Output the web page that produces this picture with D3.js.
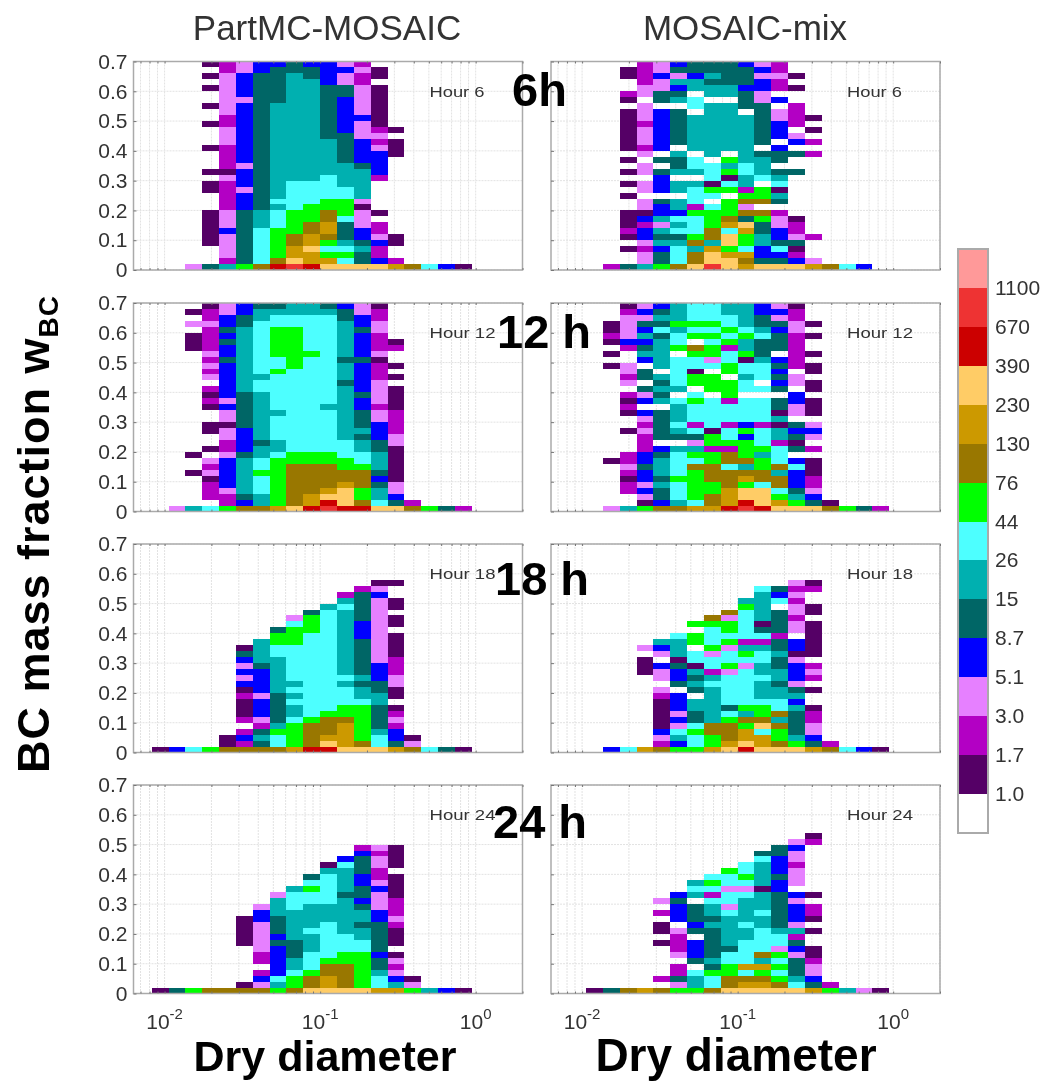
<!DOCTYPE html>
<html>
<head>
<meta charset="utf-8">
<script src="https://cdn.jsdelivr.net/npm/d3@7"></script>
<style>
  body { margin: 0; background: #fff; }
  svg { display: block; filter: blur(0.7px); font-family: "Liberation Sans", Arial, sans-serif; }
  .axis path { stroke: none; }
  .axis line { stroke: #777; }
  .axis text { fill: #333; font-size: 21px; }
  .grid line { stroke: #e2e2e2; stroke-dasharray: 2 1; }
</style>
</head>
<body>
<svg id="chart" width="1045" height="1081"></svg>
<script>
// colour bar: class limits, labels and colours, lowest class first
const classLimits = [1, 1.7, 3, 5.1, 8.7, 15, 26, 44, 76, 130, 230, 390, 670, 1100];
const classLabels = ['1.0', '1.7', '3.0', '5.1', '8.7', '15', '26', '44', '76', '130', '230', '390', '670', '1100'];
const classColors = ['#ffffff', '#550066', '#b300c4', '#e680ff', '#0000ff', '#006666', '#00b0b0', '#4dffff',
    '#00ff00', '#997700', '#cc9900', '#ffcc66', '#cc0000', '#ee3333', '#ff9999'];
const classValues = { '1': 1.3, '2': 2.3, '3': 4, '4': 6.6, '5': 11, '6': 20, '7': 34, '8': 58, '9': 100,
    'a': 175, 'b': 300, 'c': 510, 'd': 860, 'e': 1300 };

const diameterEdges = [0.00644, 0.00826, 0.0106, 0.0136, 0.01745, 0.0224, 0.0287, 0.0369, 0.0473, 0.0607, 0.0779,
    0.1, 0.1283, 0.1647, 0.2113, 0.2712, 0.348, 0.4466, 0.5731, 0.7354, 0.9434];
const fractionStep = 0.02;
const fractionTicks = [0, 0.1, 0.2, 0.3, 0.4, 0.5, 0.6, 0.7];
const decadeTicks = [0.01, 0.1, 1];
const decadeExponents = ['-2', '-1', '0'];
const minorTicks = [0.007, 0.008, 0.009, 0.02, 0.03, 0.04, 0.05, 0.06, 0.07, 0.08, 0.09,
    0.2, 0.3, 0.4, 0.5, 0.6, 0.7, 0.8, 0.9, 2];

// one string per diameter bin, each string goes from fraction 0 upward
const partmc6 = ['', '', '', '3',
    '5 ... 111111 ... 11 . 1 ... 1 ... 1 .. 1 .. 1 . 1 . 1',
    '6 2 3333 4 333 22222 3 1 2222 333 22 3333333 22',
    '8 555555555 444 3 444 3 4444444444 3 4444 33',
    '9 777777 666 55555555555555555555555 44',
    'c 9 88888 777 6 7 6666666666666666 555555 4',
    'd b aa 99 8888 77777 666666666666666666 55',
    'c aa b aa 99 888 7777 66666666666666666 55 4',
    'b a 8 7 8 9 aa 99 88 7777 666666 555555555 4444',
    'b 7 8 7 6 555 7 888 77 6666 55555 444444 55 33 4 3',
    'b 55 6 5 44 333 1 3 66666 5 4444 333 4 33333 22 3 2',
    'b 4 22 4 3 22 . 1 ..... 2 4444 3 2 3 2 1111111 . 11',
    'a 2 .. 11 ............. 111 . 1',
    '9', '7', '4', '1'];
const mix6 = ['', '', '', '2',
    '5 .. 1 . 1 2 111 .. 1 . 1 . 1 . 1 . 1111111 . 1 2 .. 11',
    '6 33 2 3 44 2 4 1 33 . 33 . 33 . 3 2 333 2 333 . 33 2222',
    '8 55 4 6 5 6 3 6 44 5 . 444 5 . 5 . 4444444 . 55 33 4 33',
    '9 777 6 5 7 6 7 4 6 6 . 66 . 6 55 6 . 555555 . 6 5 4 6 3 5 4',
    'b 99 6 9 8 777 8 2 777 6 . 6 77 . 666666 . 77 . 66 4 55',
    'd bb a 6 99 888 7 . 7 8 1 777 . 666666666 . 66 5 6 55',
    'bb a 8 bb 7 a 9 888 . 8 7 1 8 6 8 . 66666666 . 66 5555',
    'a 9 a 7 88 a b 5 9 3 9 8 2 66 77 66666666 . 555 4 555 4',
    'b 5 44 66 55 8 9 . 9 88 . 7 666 5 . 5555555 33 44 3 4 3',
    'b 5 4 7 5 44 33 2 . 5 6 1 7 6 5 . 55 4 . 444 33 . 4 . 22 3 22',
    'b 4 2 1 5 3 22 1 ....... 5 .. 5 . 4 3 . 2222 .. 1 . 1',
    'a 3 ... 2 ............. 2 . 2 . 1 . 1',
    '9', '7', '4', ''];
const partmc12 = ['', '', '3',
    '6 ..... 1 .. 1 ................. 111 . 3 . 1',
    '7 . 222 1 3 2 3 . 1 .. 11 .. 1 2 1 2 . 3 2 3 2 3 2222 3 2 2 1',
    '8 22 3 44444 3 22 33 1 33 4 3 444444 5 44 5 4 5 44 33',
    '9 4 5 666666 5 4444 555555 66666666666 55 44',
    '9 66 777 8 77 66 5 66666666 77 6 777777777 66 5',
    'a 88888888 7 66 7777 6 777777 8 77 88888 77 6 5',
    'b 9999999 88 77777777777777 8888888 77 66',
    'c aa 99999 88 7777777777777777 8 777777 66',
    'd c b a 9999 88 7777777 6 777777777777777 6 5',
    'c bbb a 99 88 777 666666666 5 666 5 666666 55 4',
    'c 9 88 999 8 77 66 5 6 555 44 5 44444 5 4444 5 44 33',
    'b 7 66 5 4 5 666 55 444 33 2 3333 222 1 3 222 33 22 1',
    'b 5 4 33 111111 33 2222 1111 . 1 . 1 .. 2 1',
    '9 2', '8', '5', '2'];
const mix12 = ['', '', '',
    '3 ....... 1 ............... 1 . 1 . 1 2 11',
    '6 .. 22 1 2 3 22 ... 1 .. 1 2 1 2 . 3 2 33 .. 2 4 3333 2 1',
    '8 1 3 4 3 44 5 44 222 3 2 3 4 . 4 3 5 . 55 . 4 6 5 4 6 4 5 3 4 3',
    '9 4 55 6 5 666 5 4 . 55 555 . 6 5 6 5 6 . 66666 5 7 5 6 5 4',
    '9 6 777 8 7777 6 . 5 6 7 666 7 . 6 77777 . 8 77 6 8 6 66',
    'a 7 88888 9 7 8 6 3 5 7 2 777 8 7 . 88 1 77 8 9 . 8 7 8 7 77',
    'a 99 88 999 88 2 88 1 7 7777 . 888 . 7 3 88 7 8 7 8 777',
    'c aaa 999 7 99 2 8 77 2 777 2 888 . 88 77 2 8 7 8 77 66',
    'd c bb 8 a 9 6 9 888 4 8 4 7777 . 77 6 77 1 8 66 8 7 6666',
    'c bbb 7 99 88 6 8 777 2 7777 . 7 . 777 6 555 7 6 55 44',
    'b a 8 7 99 6 9 777 2 66 1 6 1 5 5 . 5 4 5 4 5 4 . 555 4 5 3 4 3',
    'b 8 6 5 444 7 4 . 5 1 5 4 5 . 33 44 . 33 . 222222 33 22 1',
    'b 5 4 3 22 111 . 2 . 3 4 3 . 111 . 11 . 11 . 1 .. 1 . 1',
    '9 1', '8', '5', '2'];
const partmc18 = ['', '1', '4', '7', '8',
    '9 11',
    '9 2 4 2 . 2 111 2 1 4 3 4 3 4 5 1',
    '9 5 6 5 2 3 444 3 4444 5 6666',
    '9 77 8 6 55555 666666 77 88 5',
    'a 8888 7 66 7 6 7 6 777777 888 7 3',
    'c 9999 8 77777777777777 888 5',
    'c b a 999 8 77777777777777777 6',
    'b aaaa 9 88 777 6 7 66666666666 7 6 2',
    'b 9 888888 7 66 5 6 555555 444 55555 2',
    'b 77 6 5555 66 55 444 33333333333 4 3 1',
    'a 5 44 2 3 2 1 . 11 33 222 1111 . 11 . 11 .. 1',
    '9 3 1', '7', '5', '1'];
const mix18 = ['', '', '', '4', '7',
    'a ............ 111 . 3',
    '9 2 3 4 11111 2 3 . 33 4 . 3 4 6',
    '8 4 6 7 3 4 3 444 . 5 44 5 1 66 6 7',
    '8 77 8 7 55 66 . 5 6 5 6 1 77 . 88 . 8',
    'a 88 99 666666 7 6 2 77 3 8 777 8 9',
    'b a 999 8 7 5 77777 3 8 77 3 8 7 88 3 9',
    'c b aa 8 9 6 8 777777 3 7 8 6 2 77777 8 6',
    'b aa 7 b 9 88 7 6 66 7 66 77 6 2 7 5 1 66666 7',
    'b 9 88 9 6 9 77 6 6 5 66 55 6 55 2 5555 . 7 4 5',
    'b 8 6 5555 6 4 6 5 3 444 3 1 44 . 33 2 33 2 3 2 3',
    'a 5 4 33 22 1 .. 1 . 2 3 2 . 111111 . 11 .. 2 1',
    '9 2', '7', '4', '1'];
const partmc24 = ['', '1', '5', '8', '9', '9',
    '9 1 ...... 11111',
    '9 3 4 2 . 22 33333 44 3',
    '8 6 7 44444 5 4 555 666 3',
    '9 88 7 66 555 66666 777 6',
    'b 99 8 777 666 7 6666 77 8 7 5',
    'b aa 99 8 777777 666 77777 6 1',
    'b 9999 88 777 666666 5 6666 7 4',
    'b 888888 77 66 5 66 5 4 55 44 555 4 2',
    'a 77 6 55 4 55555 44 333 4 3 22 33 2 3',
    'a 6 4 3 2 3 1 . 111 2 3 222 1111 . 1111',
    '8 3 1', '6', '4', '1'];
const mix24 = ['', '', '1', '5', '9', 'a',
    '9 . 2 ..... 1 . 11 . 2 . 3',
    '8 3 5 22 . 3 222 3 . 444 5 4',
    '8 66 7 . 5 444 . 5 4 555 . 6 7 6',
    '9 77 8 5 6 55555 6 5 66 7 2 7 8 7',
    'b 99 88 77 5 66666 7 3 77 3 7 7 8',
    'b a 9 7 a 7777 66 7 6666 7 3 7 8 7 7',
    'b a 9 8 a 6 9 7777 66 7 666 1 6666 7 5',
    'b 9 8 7 8 7 8 3 77 6 555555 44 5 444 55',
    'b 7 6 555 3 4 5 2 6 3 444 3 4 . 333 2 33 4 3',
    'a 5 4 33 2 11 .. 1 . 1 22 . 1 ........ 2 1',
    '8 2', '6', '3', '1'];

const panels = [
    { cells: partmc6, hour: 'Hour 6', col: 0, row: 0 },
    { cells: mix6, hour: 'Hour 6', col: 1, row: 0 },
    { cells: partmc12, hour: 'Hour 12', col: 0, row: 1 },
    { cells: mix12, hour: 'Hour 12', col: 1, row: 1 },
    { cells: partmc18, hour: 'Hour 18', col: 0, row: 2 },
    { cells: mix18, hour: 'Hour 18', col: 1, row: 2 },
    { cells: partmc24, hour: 'Hour 24', col: 0, row: 3 },
    { cells: mix24, hour: 'Hour 24', col: 1, row: 3 }
];

const panelLefts = [133.5, 551];
const panelTops = [61.5, 303, 544, 785];
const panelWidth = 389;
const panelHeight = 208.5;

const svg = d3.select('#chart');
const mapX = d3.scaleLog().domain([Math.pow(10, -2.2), 2]).range([0, panelWidth]);
const mapY = d3.scaleLinear().domain([0, 0.7]).range([panelHeight, 0]);
const mapColor = d3.scaleThreshold().domain(classLimits).range(classColors);

panels.forEach(p => {
    const g = svg.append('g')
        .attr('transform', `translate(${panelLefts[p.col]}, ${panelTops[p.row]})`);

    g.append('g').attr('class', 'grid').selectAll('line')
        .data(minorTicks.concat(decadeTicks)).join('line')
        .attr('x1', d => mapX(d)).attr('x2', d => mapX(d))
        .attr('y1', 0).attr('y2', panelHeight);
    g.append('g').attr('class', 'grid').selectAll('line')
        .data(fractionTicks).join('line')
        .attr('x1', 0).attr('x2', panelWidth)
        .attr('y1', d => mapY(d)).attr('y2', d => mapY(d));

    // flatten the column strings to one record per filled cell
    const cells = [];
    p.cells.forEach((s, c) => {
        s.replace(/ /g, '').split('').forEach((code, r) => {
            if (code !== '.') cells.push({ c, r, value: classValues[code] });
        });
    });
    g.append('g').selectAll('rect').data(cells).join('rect')
        .attr('x', d => mapX(diameterEdges[d.c]))
        .attr('width', d => mapX(diameterEdges[d.c + 1]) - mapX(diameterEdges[d.c]))
        .attr('y', d => mapY((d.r + 1) * fractionStep))
        .attr('height', d => mapY(d.r * fractionStep) - mapY((d.r + 1) * fractionStep))
        .attr('fill', d => mapColor(d.value))
        .attr('shape-rendering', 'crispEdges');

    g.append('rect')
        .attr('width', panelWidth).attr('height', panelHeight)
        .attr('fill', 'none').attr('stroke', '#aaa').attr('stroke-width', 1.5);

    // only the left column carries fraction labels
    g.append('g').attr('class', 'axis')
        .call(d3.axisLeft(mapY).tickValues(fractionTicks).tickSizeInner(-3).tickSizeOuter(0).tickPadding(6)
            .tickFormat(d => p.col === 1 ? '' : (d === 0 ? '0' : d3.format('.1f')(d))));

    // minor and decade ticks point inward on top and bottom
    const xBottom = g.append('g').attr('class', 'axis')
        .attr('transform', `translate(0, ${panelHeight})`)
        .call(d3.axisBottom(mapX).tickValues(decadeTicks.concat(minorTicks)).tickSizeInner(-2).tickSizeOuter(0)
            .tickFormat(''));
    g.append('g').attr('class', 'axis')
        .call(d3.axisTop(mapX).tickValues(decadeTicks.concat(minorTicks)).tickSizeInner(-2).tickSizeOuter(0)
            .tickFormat(''));

    if (p.row === 3) {
        decadeTicks.forEach((d, i) => {
            const t = xBottom.append('text')
                .attr('x', mapX(d)).attr('y', 35)
                .attr('text-anchor', 'middle')
                .style('font-size', '21px');
            t.append('tspan').text('10');
            t.append('tspan').attr('dy', -10).style('font-size', '15px').text(decadeExponents[i]);
        });
    }

    g.append('text')
        .attr('x', 296).attr('y', 35)
        .attr('fill', '#333').style('font-size', '15px')
        .attr('textLength', p.hour.length === 6 ? 55 : 66)
        .attr('lengthAdjust', 'spacingAndGlyphs')
        .text(p.hour);
});

// column titles
const titleData = [
    { text: 'PartMC-MOSAIC', x: 327 },
    { text: 'MOSAIC-mix', x: 745 }
];
svg.selectAll('.ptitle').data(titleData).join('text')
    .attr('class', 'ptitle')
    .attr('x', d => d.x).attr('y', 40)
    .attr('text-anchor', 'middle')
    .attr('fill', '#333').style('font-size', '35px')
    .text(d => d.text);

// big hour labels
const hourLabels = [
    { text: '6h', x: 512, y: 106 },
    { text: '12 h', x: 497, y: 348 },
    { text: '18 h', x: 495, y: 595 },
    { text: '24 h', x: 493, y: 838 }
];
svg.selectAll('.hlabel').data(hourLabels).join('text')
    .attr('class', 'hlabel')
    .attr('x', d => d.x).attr('y', d => d.y)
    .attr('fill', '#000').style('font-size', '47px').style('font-weight', 'bold')
    .text(d => d.text);

// x labels
const xLabels = [
    { x: 325, size: 43 },
    { x: 736, size: 46 }
];
svg.selectAll('.xlabel').data(xLabels).join('text')
    .attr('class', 'xlabel')
    .attr('x', d => d.x).attr('y', 1071)
    .attr('text-anchor', 'middle')
    .attr('fill', '#000').style('font-size', d => d.size + 'px').style('font-weight', 'bold')
    .text('Dry diameter');

// y label
const yLabel = svg.append('text')
    .attr('transform', 'translate(49, 534) rotate(-90)')
    .attr('text-anchor', 'middle')
    .attr('fill', '#000').style('font-size', '45px').style('font-weight', 'bold')
    .style('letter-spacing', '1px');
yLabel.append('tspan').text('BC mass fraction w');
yLabel.append('tspan').attr('dy', 9).style('font-size', '28px').text('BC');

// colour bar, top box is the highest class
const barLeft = 958, barWidth = 30, barTop = 249, barBottom = 833;
const mapBar = d3.scaleBand().domain(d3.range(classColors.length).reverse()).range([barTop, barBottom]);
const bar = svg.append('g');
bar.selectAll('rect').data(classColors).join('rect')
    .attr('x', barLeft).attr('width', barWidth)
    .attr('y', (d, i) => mapBar(i)).attr('height', mapBar.bandwidth())
    .attr('fill', d => d)
    .attr('shape-rendering', 'crispEdges');
bar.append('rect')
    .attr('x', barLeft).attr('y', barTop)
    .attr('width', barWidth).attr('height', barBottom - barTop)
    .attr('fill', 'none').attr('stroke', '#aaa').attr('stroke-width', 2);
bar.selectAll('text').data(classLabels).join('text')
    .attr('x', barLeft + 37)
    .attr('y', (d, i) => mapBar(i) + 7)
    .attr('fill', '#333').style('font-size', '21px')
    .text(d => d);
</script>
</body>
</html>
